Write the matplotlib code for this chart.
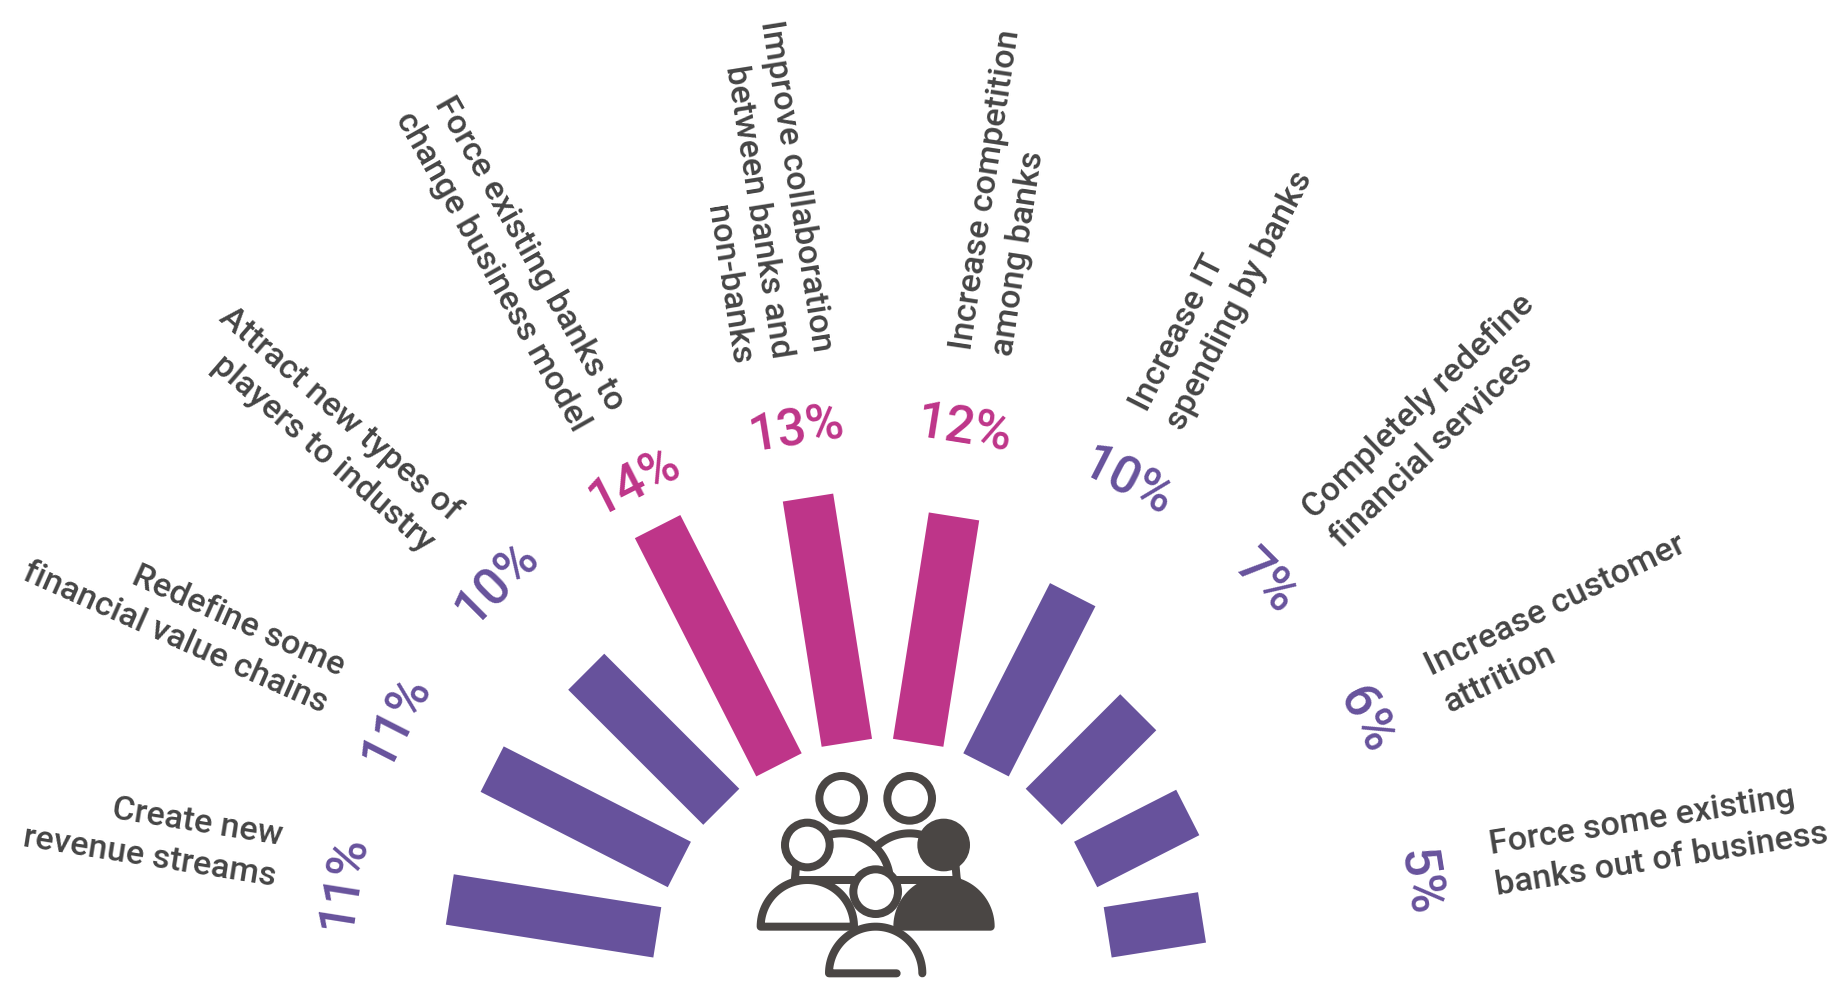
import matplotlib
matplotlib.use("Agg")
import matplotlib.pyplot as plt
import numpy as np
from matplotlib.patches import Circle, Polygon
from matplotlib.transforms import Affine2D

plt.rcParams['font.family'] = ['Roboto', 'DejaVu Sans']

categories = [
    "Create new\nrevenue streams",
    "Redefine some\nfinancial value chains",
    "Attract new types of\nplayers to industry",
    "Force existing banks to\nchange business model",
    "Improve collaboration\nbetween banks and\nnon-banks",
    "Increase competition\namong banks",
    "Increase IT\nspending by banks",
    "Completely redefine\nfinancial services",
    "Increase customer\nattrition",
    "Force some existing\nbanks out of business",
]
values = [11, 11, 10, 14, 13, 12, 10, 7, 6, 5]

PURPLE = "#67529c"
MAGENTA = "#be3589"
DARK = "#4a4644"
TEXT = "#454545"

W, H = 1828, 985
CX, CY = 882.5, 17  # centre of the fan, y measured from the bottom
INNER_R = 228
PX_PER_PCT = 19.1
BAR_W = 51
VALUE_R = 545
LABEL_R = 624

# hand tweaks per category label: extra rotation in degrees, shift in pixels
label_tilt = [0, 3, 4, 2.5, 0, 0.5, 0, -1, -1, 0]
label_shift = [(13, 14), (8, -2), (1.5, -3.5), (0, -7), (-3.5, -6.4),
               (2.7, -1), (-9, -6), (-2, -1), (-2, -2), (-6, 5)]


def draw_bars(ax):
    for i, (name, val) in enumerate(zip(categories, values)):
        theta = 171 - 18 * i
        color = MAGENTA if val >= 12 else PURPLE
        tr = Affine2D().rotate_deg(theta - 90).translate(CX, CY) + ax.transData
        ax.bar(0, val * PX_PER_PCT, bottom=INNER_R, width=BAR_W, color=color,
               linewidth=0, transform=tr)

        rad = np.deg2rad(theta)
        vx = CX + VALUE_R * np.cos(rad) - (3 if theta < 90 else 0)
        ax.text(vx, CY + VALUE_R * np.sin(rad), f"{val}%",
                color=color, fontsize=37, fontweight='medium', rotation=theta - 90,
                rotation_mode='anchor', ha='center', va='center')

        left_side = theta > 90
        dx, dy = label_shift[i]
        ax.text(CX + LABEL_R * np.cos(rad) + dx, CY + LABEL_R * np.sin(rad) + dy, name,
                color=TEXT, fontsize=24.6, fontweight='medium',
                rotation=(theta - 180 if left_side else theta) + label_tilt[i],
                rotation_mode='anchor', va='center',
                ha='right' if left_side else 'left',
                multialignment='right' if left_side else 'left',
                linespacing=1.36)


def dome(cx, cy, r):
    t = np.linspace(np.pi, 0, 60)
    return np.column_stack([cx + r * np.cos(t), cy - r * np.sin(t)])


def draw_icon(ax):
    # people icon, built on a 900 x 735 grid with y running downward
    tr = Affine2D().scale(1 / 3, -1 / 3).translate(730, H - 740) + ax.transData
    lw = 5.76

    def line(points, z=3):
        pts = np.asarray(points)
        ax.plot(pts[:, 0], pts[:, 1], color=DARK, lw=lw, solid_capstyle='round',
                solid_joinstyle='round', transform=tr, zorder=z)

    def shape(points, face, z):
        ax.add_patch(Polygon(points, closed=True, facecolor=face, edgecolor=DARK,
                             lw=lw, joinstyle='round', transform=tr, zorder=z))

    def head(x, y, face, z):
        ax.add_patch(Circle((x, y), 67, facecolor=face, edgecolor=DARK, lw=lw,
                            transform=tr, zorder=z))

    # back row
    t = np.deg2rad(np.linspace(104, 0, 40))
    line(np.column_stack([335 + 145 * np.cos(t), 425 - 145 * np.sin(t)]))
    t = np.deg2rad(np.linspace(135, 70, 30))
    line(np.column_stack([539 + 145 * np.cos(t), 425 - 145 * np.sin(t)]))
    head(335, 175, 'white', 3)
    head(539, 175, 'white', 3)
    line([(200, 419), (680, 419)], z=3)

    # necks, then the two front bodies
    line([(199, 370), (194, 425)], z=4)
    line([(676, 370), (681, 425)], z=4)
    shape(dome(232, 560, 140), 'white', 5)
    shape(dome(642, 560, 140), DARK, 5)
    head(232, 315, 'white', 6)
    head(641, 315, DARK, 6)

    # centre person sits on top
    head(437, 455, 'white', 7)
    t = np.linspace(np.pi, 0, 60)
    front = np.column_stack([437 + 140 * np.cos(t), 700 - 140 * np.sin(t)])
    ax.fill(front[:, 0], front[:, 1], color='white', lw=0, transform=tr, zorder=7)
    line(np.vstack([[(500, 700)], front]), z=8)


def main():
    fig = plt.figure(figsize=(W / 100, H / 100), dpi=100)
    ax = fig.add_axes([0, 0, 1, 1])
    ax.set_xlim(0, W)
    ax.set_ylim(0, H)
    ax.axis('off')

    draw_bars(ax)
    draw_icon(ax)

    fig.savefig("out.png", dpi=100)


if __name__ == '__main__':
    main()
